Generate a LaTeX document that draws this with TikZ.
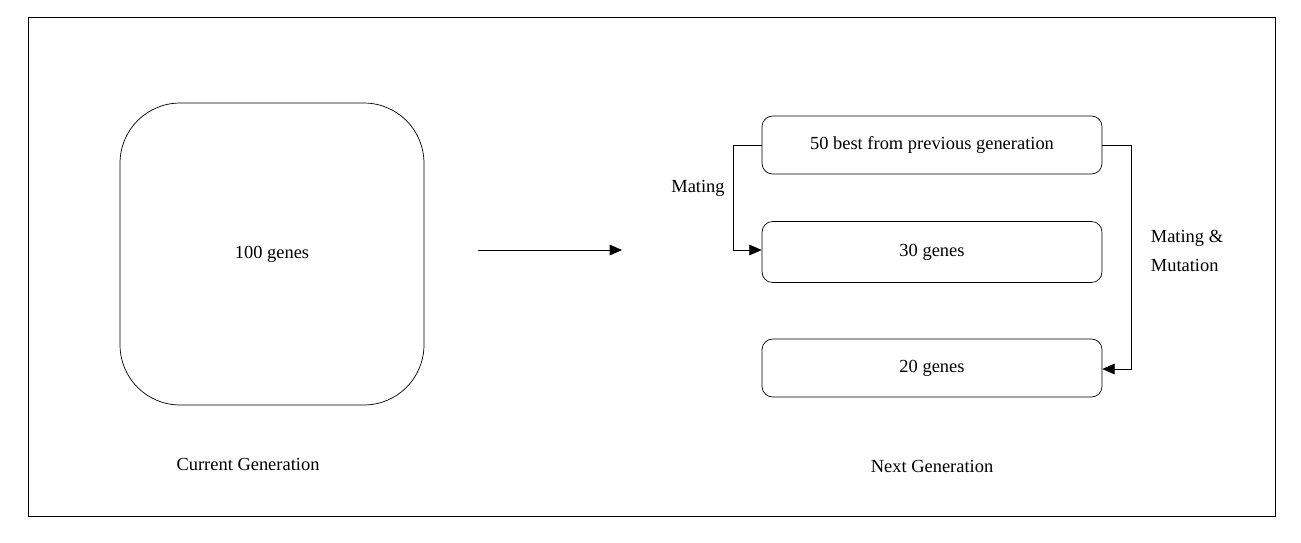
\documentclass[tikz,border=0pt]{standalone}
\usepackage{fontspec}
\setmainfont{Liberation Serif}
\usetikzlibrary{arrows.meta,positioning}

\begin{document}
\begin{tikzpicture}[x=0.02cm,y=-0.02cm,>={Triangle[length=7pt,width=6pt]},font=\fontsize{10.5}{12}\selectfont,
  genbox/.style={draw,rounded corners=6pt,minimum width=6.8cm,minimum height=1.16cm,inner sep=0pt},
  every node/.style={inner sep=1pt}]

\useasboundingbox (0,0) rectangle (1301,542);
\draw (28,17) rectangle (1275,516);

\node[draw,rounded corners=1.2cm,minimum width=6.08cm,minimum height=6.04cm] (cur) at (272,254) {100 genes};
\node (curlbl) at (248,464) {Current Generation};

\coordinate (a1) at (478,250);
\coordinate (a2) at (622,250);
\draw[->] (a1) -- (a2);

\node[genbox] (best) at (932,145) {50 best from previous generation};
\node[genbox,minimum height=1.22cm] (g30) at (932,252) {30 genes};
\node[genbox] (g20) at (932,368) {20 genes};
\node (nextlbl) at (932,466) {Next Generation};

\draw[->] (best.west) -| (733,250) -- (g30.west |- 0,250);
\draw[->] (best.east) -| (1131,369) -- (g20.east |- 0,369);

\node (mat) at (698,188) {Mating};
\node[align=left] (matmut) at (1187,251) {Mating \&\\[4pt]Mutation};

\end{tikzpicture}
\end{document}
